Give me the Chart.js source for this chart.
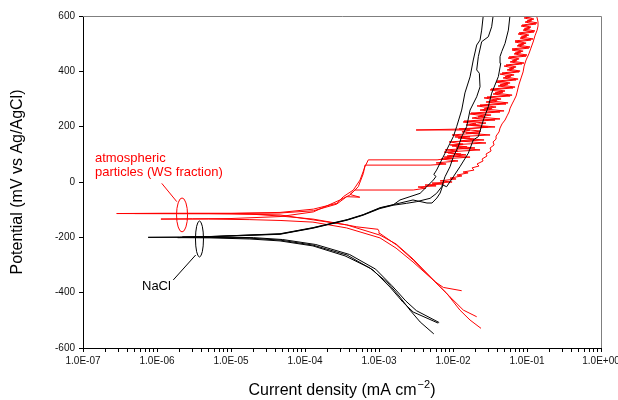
<!DOCTYPE html>
<html>
<head>
<meta charset="utf-8">
<script src="https://cdn.jsdelivr.net/npm/chart.js@4.4.1/dist/chart.umd.min.js"></script>
<style>
  html, body { margin: 0; padding: 0; background: #fff; }
  #wrap { width: 618px; height: 400px; position: relative; }
</style>
</head>
<body>
<div id="wrap"><canvas id="polarization-chart" width="618" height="400"></canvas></div>
<script>
// --- DATA (current density in mA cm-2, potential in mV vs Ag/AgCl) ---
// NaCl curves: cathodic end -> Ecorr -> anodic end
const nacl1Current = [6.3e-3, 2.9e-3, 2.1e-3, 1.41e-3, 8.3e-4, 3.7e-4, 1.28e-4, 4.6e-5, 1.8e-5, 5.2e-6, 7.6e-7,
  2e-6, 5.2e-6, 4.6e-5, 1.28e-4, 3.7e-4, 6.1e-4, 1.03e-3, 1.55e-3, 1.92e-3, 2.62e-3, 3.59e-3, 4.42e-3, 5.42e-3,
  5.9e-3, 5.5e-3, 6.0e-3, 6.68e-3, 7.8e-3, 9.1e-3, 1.01e-2, 1.12e-2, 1.31e-2, 1.45e-2, 1.7e-2, 1.88e-2, 2.09e-2,
  2.32e-2, 2.44e-2, 2.57e-2];
const nacl1Potential = [-510, -470, -434, -380, -318, -264, -228, -210, -203, -200, -200,
  -199, -197, -188, -166, -137, -119, -94, -83, -65, -53, -41, -17, 7,
  20, 27, 43, 68, 104, 140, 164, 200, 260, 322, 380, 441, 495,
  513, 549, 604];

const nacl2Current = [5.5e-3, 3.6e-3, 2.62e-3, 1.92e-3, 1.32e-3, 7.55e-4, 3.47e-4, 1.28e-4, 4.6e-5, 1.8e-5, 5.2e-6, 1.9e-6,
  3e-6, 5.2e-6, 4.6e-5, 1.28e-4, 3.7e-4, 6.1e-4, 1.03e-3, 1.55e-3, 2.37e-3, 3.23e-3, 4.9e-3, 6.0e-3, 7.04e-3,
  7.8e-3, 9.1e-3, 1.01e-2, 1.18e-2, 1.31e-2, 1.53e-2, 1.7e-2, 2.09e-2, 2.32e-2, 2.27e-2, 2.09e-2, 2.2e-2, 2.44e-2,
  3.0e-2, 3.33e-2, 3.5e-2];
const nacl2Potential = [-549, -506, -463, -416, -365, -311, -267, -231, -213, -206, -202, -201,
  -200, -198, -189, -167, -138, -120, -96, -84, -77, -71, -59, -41, -17,
  19, 55, 91, 128, 164, 200, 260, 308, 344, 393, 405, 453, 507,
  525, 561, 604];

const nacl3Current = [6.5e-3, 3.2e-3, 2.3e-3, 1.5e-3, 9e-4, 4e-4, 1.4e-4, 5e-5, 2e-5, 5.5e-6, 2.2e-6,
  4e-6, 5.5e-6, 4.6e-5, 1.28e-4, 3.7e-4, 6.1e-4, 1.03e-3, 1.55e-3, 2.88e-3, 4.45e-3, 5.2e-3, 6.05e-3, 6.7e-3,
  7.3e-3, 8.2e-3, 1.01e-2, 1.24e-2, 1.61e-2, 1.88e-2, 2.2e-2, 2.57e-2, 3.0e-2, 3.33e-2, 4.1e-2, 4.42e-2,
  4.32e-2, 4.55e-2, 5.05e-2, 5.6e-2, 5.9e-2];
const nacl3Potential = [-508, -465, -430, -375, -315, -262, -226, -208, -201, -199, -199,
  -198, -197, -187, -165, -136, -118, -93, -82, -65, -76, -76, -58, -40,
  -11, -17, 19, 55, 104, 152, 164, 224, 272, 321, 381, 429,
  453, 471, 501, 549, 604];

// atmospheric particles (WS fraction) curves, noisy anodic branches
const ws1Current = [1.31e-2, 7.4e-3, 5.7e-3, 2.9e-3, 1.73e-3, 1.03e-3, 1.0e-3, 9.7e-4, 5.0e-4, 3.65e-4, 1.3e-4, 4.6e-5, 1.0e-5, 2.85e-7,
  1.2e-6, 1e-5, 4.6e-5, 1.3e-4, 2.7e-4, 3.3e-4, 4.5e-4, 5.54e-4, 6.46e-4, 7.17e-4,
  6.09e-3, 9.72e-3, 7.58e-3, 1.50e-2, 8.58e-3, 1.17e-2, 7.82e-3, 1.98e-2, 9.72e-3, 1.37e-2,
  8.86e-3, 2.63e-2, 1.17e-2, 1.70e-2, 9.72e-3, 2.25e-2, 1.32e-2, 1.70e-2, 3.17e-3, 1.60e-2,
  2.97e-2, 1.50e-2, 2.05e-2, 1.37e-2, 3.70e-2, 1.81e-2, 2.63e-2, 1.70e-2, 4.32e-2, 2.32e-2,
  3.37e-2, 2.11e-2, 5.21e-2, 2.79e-2, 3.94e-2, 2.63e-2, 5.91e-2, 3.48e-2, 4.75e-2, 3.17e-2,
  6.48e-2, 4.06e-2, 5.55e-2, 3.82e-2, 7.12e-2, 4.75e-2, 6.09e-2, 4.32e-2, 7.82e-2, 5.38e-2,
  6.69e-2, 4.90e-2, 8.58e-2, 5.91e-2, 7.35e-2, 5.55e-2, 9.72e-2, 6.69e-2, 8.32e-2, 6.29e-2,
  1.06e-1, 7.35e-2, 9.14e-2, 6.90e-2, 1.13e-1, 8.07e-2, 1.00e-1, 7.58e-2, 1.24e-1, 8.86e-2,
  1.10e-1, 8.32e-2, 1.32e-1, 9.43e-2, 1.17e-1, 9.14e-2, 1.32e-1, 1.10e-1];
const ws1Potential = [-393, -381, -360, -282, -228, -186, -178, -171, -162, -155, -137, -119, -115, -114,
  -113, -113, -110, -98, -77, -53, -29, 7, 55, 80,
  80, 87, 90, 98, 105, 112, 116, 123, 130, 137,
  145, 152, 159, 163, 170, 177, 181, 188, 188, 192,
  199, 206, 210, 217, 224, 231, 239, 246, 253, 260,
  267, 275, 282, 289, 296, 304, 311, 318, 325, 333,
  340, 347, 354, 361, 369, 376, 383, 390, 398, 405,
  412, 419, 427, 434, 441, 448, 455, 463, 470, 477,
  484, 492, 499, 506, 513, 520, 528, 535, 542, 549,
  557, 564, 571, 578, 586, 593, 600, 607];

const ws2Current = [2.09e-2, 1.38e-2, 9.1e-3, 5.7e-3, 2.88e-3, 1.7e-3, 1.03e-3, 3.65e-4, 1.28e-4, 4.6e-5, 1.8e-5, 5e-6, 1.13e-6,
  3e-6, 1e-5, 4.6e-5, 1.3e-4, 2.97e-4, 4.05e-4, 5.25e-4, 6.15e-4, 6.46e-4,
  4.90e-3, 8.07e-3, 5.91e-3, 1.17e-2, 6.90e-3, 1.70e-2, 8.32e-3, 1.28e-2, 7.58e-3, 2.32e-2,
  1.10e-2, 1.55e-2, 9.14e-3, 2.79e-2, 1.24e-2, 1.92e-2, 1.06e-2, 3.17e-2, 1.50e-2, 2.39e-2,
  1.21e-2, 3.70e-2, 1.81e-2, 2.79e-2, 1.41e-2, 4.32e-2, 2.18e-2, 3.27e-2, 1.75e-2, 4.90e-2,
  2.63e-2, 3.82e-2, 2.32e-2, 5.55e-2, 3.17e-2, 4.46e-2, 2.88e-2, 6.29e-2, 3.70e-2, 5.05e-2,
  3.27e-2, 6.90e-2, 4.32e-2, 5.91e-2, 3.94e-2, 7.58e-2, 5.05e-2, 6.69e-2, 4.60e-2, 8.07e-2,
  5.72e-2, 7.12e-2, 5.21e-2, 9.14e-2, 6.29e-2, 7.82e-2, 5.72e-2, 1.00e-1, 6.90e-2, 8.86e-2,
  6.29e-2, 1.10e-1, 7.58e-2, 9.72e-2, 6.90e-2, 1.21e-1, 8.32e-2, 1.06e-1, 7.82e-2, 1.28e-1,
  9.14e-2, 1.13e-1, 8.58e-2, 1.37e-1, 1.00e-1, 1.24e-1, 9.72e-2, 1.37e-1, 1.21e-1];
const ws2Potential = [-487, -463, -415, -360, -289, -239, -202, -166, -145, -139, -136, -134, -134,
  -133, -132, -125, -108, -65, -47, -17, 31, 61,
  61, 65, 69, 76, 83, 90, 94, 101, 108, 116,
  123, 127, 134, 141, 148, 155, 163, 170, 177, 184,
  192, 199, 206, 213, 220, 228, 235, 242, 249, 257,
  264, 271, 278, 286, 293, 300, 307, 314, 322, 329,
  336, 343, 351, 358, 365, 372, 380, 387, 394, 401,
  408, 416, 423, 430, 437, 445, 452, 459, 466, 473,
  481, 488, 495, 502, 510, 517, 524, 531, 539, 546,
  553, 560, 567, 575, 582, 589, 596, 604, 607];

const ws3Current = [2.39e-2, 1.7e-2, 1.24e-2, 8.2e-3, 5.6e-3, 2.88e-3, 1.7e-3, 1.03e-3, 3.65e-4, 1.28e-4, 4.6e-5, 1.8e-5, 5e-6, 5e-7,
  2e-6, 1e-5, 4.6e-5, 1.3e-4, 2.68e-4, 3.66e-4, 5.5e-4, 4.05e-4, 4.74e-4, 2.9e-3,
  4.32e-3, 3.37e-3, 5.91e-3, 4.19e-3, 7.58e-3, 5.21e-3, 9.72e-3, 6.69e-3, 1.10e-2, 9.14e-3,
  1.32e-2, 1.13e-2, 1.60e-2, 1.37e-2, 1.92e-2, 1.81e-2, 2.25e-2, 2.11e-2, 2.55e-2, 2.47e-2,
  2.88e-2, 2.79e-2, 3.27e-2, 3.17e-2, 3.59e-2, 3.48e-2, 3.82e-2, 3.82e-2, 4.19e-2, 4.32e-2,
  4.60e-2, 5.05e-2, 5.38e-2, 5.72e-2, 5.91e-2, 6.29e-2, 6.69e-2, 7.12e-2, 7.35e-2, 7.58e-2,
  7.82e-2, 8.32e-2, 8.86e-2, 9.14e-2, 9.72e-2, 1.06e-1, 1.13e-1, 1.21e-1, 1.28e-1, 1.37e-1,
  1.41e-1, 1.41e-1, 1.37e-1, 1.32e-1];
const ws3Potential = [-529, -499, -463, -402, -358, -278, -224, -192, -155, -134, -123, -116, -114, -114,
  -114, -114, -112, -104, -80, -53, -55, -45, -29, -29,
  -22, -18, -14, -11, -7, -4, 0, 4, 11, 14,
  22, 25, 33, 36, 43, 51, 58, 65, 76, 83,
  94, 101, 112, 123, 134, 145, 155, 166, 181, 195,
  210, 224, 239, 253, 267, 282, 296, 311, 325, 340,
  354, 376, 398, 419, 441, 463, 484, 506, 528, 549,
  564, 578, 593, 607];

// axis ticks
const xDecades = [1e-7, 1e-6, 1e-5, 1e-4, 1e-3, 1e-2, 1e-1, 1e0];
const yTicks = [-600, -400, -200, 0, 200, 400, 600];

// annotations (anchored in data units)
const wsLabelLines = ['atmospheric', 'particles (WS fraction)'];
const wsLabelAt = [[1.45e-7, 87], [1.45e-7, 33]];
const wsEllipseAt = [2.18e-6, -119];
const wsLeader = [[1.16e-6, -5], [1.85e-6, -71]];
const naclLabel = 'NaCl';
const naclLabelAt = [6.27e-7, -376];
const naclEllipseAt = [3.75e-6, -206];
const naclLeader = [[1.66e-6, -354], [3.33e-6, -264]];

// --- HELPERS ---
function toPoints(currents, potentials) {
  return currents.map((c, i) => ({ x: c, y: potentials[i] }));
}

function formatDecade(v) {
  const exp = Math.round(Math.log10(v));
  const sign = exp < 0 ? '-' : '+';
  return `1.0E${sign}${String(Math.abs(exp)).padStart(2, '0')}`;
}

function isDecade(v) {
  const l = Math.log10(v);
  return Math.abs(l - Math.round(l)) < 1e-6;
}

function curve(label, currents, potentials, color) {
  return {
    label,
    data: toPoints(currents, potentials),
    borderColor: color,
    backgroundColor: color,
    borderWidth: 1,
    pointRadius: 0,
    showLine: true,
    tension: 0
  };
}

const FONT = '"Liberation Sans", Arial, Helvetica, sans-serif';
Chart.defaults.font.family = FONT;

// --- ANNOTATIONS / FRAME PLUGIN ---
const annotationPlugin = {
  id: 'annotations',
  afterDraw(chart) {
    const { ctx, chartArea, scales } = chart;
    const px = (p) => [scales.x.getPixelForValue(p[0]), scales.y.getPixelForValue(p[1])];
    ctx.save();

    // grey top and right frame
    ctx.strokeStyle = '#7f7f7f';
    ctx.lineWidth = 1;
    ctx.beginPath();
    ctx.moveTo(chartArea.left, chartArea.top + 0.5);
    ctx.lineTo(chartArea.right + 0.5, chartArea.top + 0.5);
    ctx.lineTo(chartArea.right + 0.5, chartArea.bottom);
    ctx.stroke();

    // red group marker
    ctx.strokeStyle = '#ff0000';
    ctx.beginPath();
    let [cx, cy] = px(wsEllipseAt);
    ctx.ellipse(cx, cy, 5.5, 17, 0, 0, Math.PI * 2);
    ctx.stroke();
    ctx.beginPath();
    let [ax, ay] = px(wsLeader[0]);
    let [bx, by] = px(wsLeader[1]);
    ctx.moveTo(ax, ay);
    ctx.lineTo(bx, by);
    ctx.stroke();

    ctx.fillStyle = '#ff0000';
    ctx.font = `13px ${FONT}`;
    ctx.textBaseline = 'middle';
    ctx.textAlign = 'left';
    wsLabelLines.forEach((t, i) => {
      const [tx, ty] = px(wsLabelAt[i]);
      ctx.fillText(t, tx, ty);
    });

    // black group marker
    ctx.strokeStyle = '#000000';
    ctx.beginPath();
    [cx, cy] = px(naclEllipseAt);
    ctx.ellipse(cx, cy, 4, 18, 0, 0, Math.PI * 2);
    ctx.stroke();
    ctx.beginPath();
    [ax, ay] = px(naclLeader[0]);
    [bx, by] = px(naclLeader[1]);
    ctx.moveTo(ax, ay);
    ctx.lineTo(bx, by);
    ctx.stroke();
    ctx.fillStyle = '#000000';
    const [nx, ny] = px(naclLabelAt);
    ctx.fillText(naclLabel, nx, ny);

    // axis titles
    ctx.fillStyle = '#000000';
    ctx.font = `16px ${FONT}`;
    const main = 'Current density (mA cm';
    const sup = '\u22122';
    const tail = ')';
    const wMain = ctx.measureText(main).width;
    const wTail = ctx.measureText(tail).width;
    ctx.font = `11px ${FONT}`;
    const wSup = ctx.measureText(sup).width;
    const total = wMain + wSup + wTail + 1;
    const x0 = (chartArea.left + chartArea.right) / 2 - total / 2;
    const yTitle = 391;
    ctx.font = `16px ${FONT}`;
    ctx.fillText(main, x0, yTitle);
    ctx.font = `11px ${FONT}`;
    ctx.fillText(sup, x0 + wMain + 1, yTitle - 6);
    ctx.font = `16px ${FONT}`;
    ctx.fillText(tail, x0 + wMain + wSup + 1, yTitle);

    ctx.translate(18, (chartArea.top + chartArea.bottom) / 2);
    ctx.rotate(-Math.PI / 2);
    ctx.textAlign = 'center';
    ctx.fillText('Potential (mV vs Ag/AgCl)', 0, 0);

    ctx.restore();
  }
};

// --- CHART ---
const ctx = document.getElementById('polarization-chart').getContext('2d');

new Chart(ctx, {
  type: 'scatter',
  data: {
    datasets: [
      curve('NaCl 1', nacl1Current, nacl1Potential, '#000000'),
      curve('NaCl 2', nacl2Current, nacl2Potential, '#000000'),
      curve('NaCl 3', nacl3Current, nacl3Potential, '#000000'),
      curve('WS 1', ws1Current, ws1Potential, '#ff0000'),
      curve('WS 2', ws2Current, ws2Potential, '#ff0000'),
      curve('WS 3', ws3Current, ws3Potential, '#ff0000')
    ]
  },
  options: {
    responsive: false,
    animation: false,
    devicePixelRatio: 1,
    layout: { padding: { left: 0, right: 17, top: 16, bottom: 0 } },
    plugins: {
      legend: { display: false },
      tooltip: { enabled: false }
    },
    scales: {
      x: {
        type: 'logarithmic',
        min: xDecades[0],
        max: xDecades[xDecades.length - 1],
        afterBuildTicks: (scale) => {
          const ticks = [];
          xDecades.forEach((d, i) => {
            if (i === xDecades.length - 1) { ticks.push({ value: d }); return; }
            for (let k = 1; k <= 9; k++) ticks.push({ value: d * k });
          });
          scale.ticks = ticks;
        },
        afterFit: (scale) => {
          scale.height = 52;
          scale.paddingLeft = 0;
          scale.paddingRight = 0;
        },
        border: { color: '#000', width: 1 },
        grid: { display: true, drawOnChartArea: false, tickLength: 4, tickColor: '#000', color: '#000' },
        ticks: {
          autoSkip: false,
          maxRotation: 0,
          padding: 3,
          color: '#111',
          font: { size: 10 },
          callback: (v) => (isDecade(v) ? formatDecade(v) : '')
        }
      },
      y: {
        type: 'linear',
        min: yTicks[0],
        max: yTicks[yTicks.length - 1],
        afterBuildTicks: (scale) => {
          scale.ticks = yTicks.map((v) => ({ value: v }));
        },
        afterFit: (scale) => {
          scale.width = 83;
          scale.paddingTop = 0;
          scale.paddingBottom = 0;
        },
        border: { color: '#000', width: 1 },
        grid: { display: true, drawOnChartArea: false, tickLength: 4, tickColor: '#000', color: '#000' },
        ticks: {
          padding: 4,
          color: '#111',
          font: { size: 10 },
          callback: (v) => String(v)
        }
      }
    }
  },
  plugins: [annotationPlugin]
});
</script>
</body>
</html>
